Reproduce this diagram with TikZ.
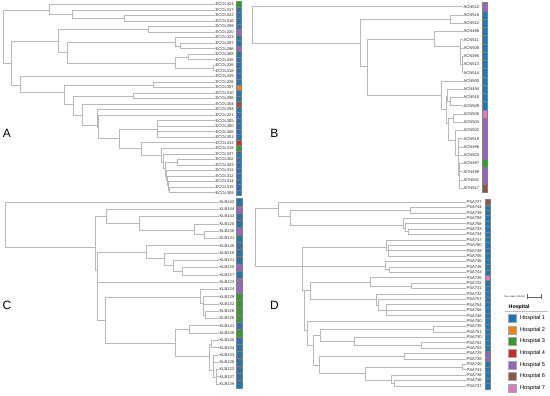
\documentclass[tikz,border=0pt]{standalone}
\usepackage{fontspec}
\setmainfont{Liberation Sans}
\definecolor{hblue}{HTML}{1F77B4}
\definecolor{horange}{HTML}{FF7F0E}
\definecolor{hgreen}{HTML}{2CA02C}
\definecolor{hred}{HTML}{D62728}
\definecolor{hpurple}{HTML}{9467BD}
\definecolor{hbrown}{HTML}{8C564B}
\definecolor{hpink}{HTML}{E377C2}
\begin{document}
\begin{tikzpicture}[
  x=1pt, y=-1pt,
  branch/.style={draw=black!28, line width=0.6pt},
  leaf/.style={anchor=west, inner sep=0.5pt, font=\fontsize{4.1}{4.5}\selectfont, text=black!85},
  cell/.style={draw=black!50, line width=0.25pt, minimum width=5pt, inner sep=0pt},
  panel/.style={font=\fontsize{12}{14}\selectfont, inner sep=0pt},
  key/.style={draw=black!35, line width=0.3pt, minimum size=8pt, inner sep=0pt},
  keytext/.style={anchor=west, font=\fontsize{5.6}{6.5}\selectfont, inner sep=0pt}]
  \useasboundingbox (0,0) rectangle (550,396);
  % Panel A: ECOL
  \node[panel] (pa) at (7,133.8) {A};
  \foreach \lab/\hc [count=\i from 0] in {324/hgreen, 317/hblue, 322/hblue, 316/hblue, 299/hblue,
      320/hpurple, 323/hblue, 297/hblue, 296/hpurple, 308/hblue, 325/hblue, 326/hblue, 318/hblue,
      329/hblue, 328/hblue, 307/horange, 310/hblue, 298/hblue, 304/hbrown, 294/hblue, 321/hblue,
      305/hblue, 300/hblue, 306/hblue, 301/hblue, 313/hred, 319/hgreen, 327/hblue, 302/hblue,
      303/hblue, 311/hblue, 312/hblue, 314/hblue, 315/hblue, 309/hblue} {
    \node[leaf] (a\i) at (215, 4.3+5.54*\i) {ECOL\lab};
    \node[cell, fill=\hc, minimum height=5.54pt] (sa\i) at (239, 4.3+5.54*\i) {};
  }
  \coordinate (aR) at (3.3,36.5);   \coordinate (aT) at (49,10);
  \coordinate (aT2) at (72.7,14);   \coordinate (aT3) at (124,18.1);
  \coordinate (aX) at (11.7,63);    \coordinate (aU) at (58.3,41.7);
  \coordinate (aU1) at (148.3,29.5); \coordinate (aU2) at (67.3,52.7);
  \coordinate (aU3) at (175,42.3);  \coordinate (aU5) at (180,46.2);
  \coordinate (aU4) at (175,63);    \coordinate (aU6) at (188,57.1);
  \coordinate (aU7) at (213,68.4);  \coordinate (aV) at (20.7,85);
  \coordinate (aW) at (64,92);      \coordinate (aW1) at (153,85);
  \coordinate (aW2) at (73.3,104);  \coordinate (aW3) at (133,96);
  \coordinate (aW4) at (82,115);    \coordinate (aW5) at (97,125);
  \coordinate (aW6) at (98.3,127);  \coordinate (aW7) at (119,138);
  \coordinate (aW8) at (157,129);   \coordinate (aW9) at (141.7,148);
  \coordinate (aW10) at (161.7,155); \coordinate (aW11) at (163.7,162);
  \coordinate (aW12) at (165,168);  \coordinate (aW13) at (177,162.2);
  \coordinate (aW14) at (166,176);  \coordinate (aW15) at (167,180);
  \coordinate (aW16) at (168,185);  \coordinate (aW17) at (169,190);
  \foreach \p/\c in {aR/aT, aR/aX, aT/a0, aT/aT2, aT2/a1, aT2/aT3, aT3/a2, aT3/a3,
      aX/aU, aX/aV, aU/aU1, aU/aU2, aU1/a4, aU1/a5, aU2/aU3, aU2/aU4, aU3/a6, aU3/aU5,
      aU5/a7, aU5/a8, aU4/aU6, aU4/aU7, aU6/a9, aU6/a10, aU7/a11, aU7/a12,
      aV/a13, aV/aW, aW/aW1, aW/aW2, aW1/a14, aW1/a15, aW2/aW3, aW2/aW4, aW3/a16, aW3/a17,
      aW4/a18, aW4/aW5, aW5/a19, aW5/aW6, aW6/a20, aW6/aW7, aW7/aW8, aW7/aW9,
      aW8/a21, aW8/a22, aW8/a23, aW8/a24, aW9/a25, aW9/aW10, aW10/a26, aW10/aW11,
      aW11/a27, aW11/aW12, aW12/aW13, aW12/aW14, aW13/a28, aW13/a29, aW14/a30, aW14/aW15,
      aW15/a31, aW15/aW16, aW16/a32, aW16/aW17, aW17/a33, aW17/a34}
    \draw[branch] (\p) |- (\c);
  % Panel B: ACN
  \node[panel] (pb) at (274.5,133.5) {B};
  \foreach \lab/\hc [count=\i from 0] in {510/hpurple, 518/hblue, 512/hblue, 498/hblue, 511/hblue,
      508/hblue, 495/hblue, 513/hblue, 514/hblue, 500/hblue, 494/hblue, 515/hblue, 509/hblue,
      506/hpink, 504/hpurple, 502/hpurple, 519/hpurple, 496/hpurple, 503/hpurple, 497/hgreen,
      499/hpurple, 501/hpurple, 517/hbrown} {
    \node[leaf] (b\i) at (463, 6.7+8.25*\i) {ACN\lab};
    \node[cell, fill=\hc, minimum height=8.25pt] (sb\i) at (485, 6.7+8.25*\i) {};
  }
  \coordinate (bR) at (252,25);     \coordinate (bX) at (360.7,43.3);
  \coordinate (bY) at (450.5,19.1); \coordinate (bZ) at (367.3,66.7);
  \coordinate (bP) at (434,39.3);   \coordinate (bP2) at (460,46.7);
  \coordinate (bP3) at (462,64);    \coordinate (bQ) at (441.7,95);
  \coordinate (bS) at (446,109.3);  \coordinate (bS1) at (447.5,96.7);
  \coordinate (bS2) at (448,123.3); \coordinate (bS3) at (450,101.6);
  \coordinate (bS4) at (453,118.2); \coordinate (bS5) at (455,140);
  \coordinate (bS6) at (458,155);   \coordinate (bS7) at (459.5,175);
  \foreach \p/\c in {bR/b0, bR/bX, bX/bY, bX/bZ, bY/b1, bY/b2, bZ/bP, bZ/bQ, bP/b3, bP/bP2,
      bP2/b4, bP2/b5, bP2/bP3, bP3/b6, bP3/b7, bP3/b8, bQ/b9, bQ/bS, bS/bS1, bS/bS2,
      bS1/b10, bS1/bS3, bS3/b11, bS3/b12, bS2/bS4, bS2/bS5, bS4/b13, bS4/b14, bS5/b15, bS5/bS6,
      bS6/b16, bS6/b17, bS6/b18, bS6/bS7, bS7/b19, bS7/b20, bS7/b21, bS7/b22}
    \draw[branch] (\p) |- (\c);
  % Panel C: KLB
  \node[panel] (pc) at (7,305) {C};
  \foreach \lab/\hc [count=\i from 0] in {142/hblue, 144/hpurple, 143/hblue, 120/hblue, 130/hpurple,
      131/hblue, 145/hblue, 119/hblue, 121/hblue, 125/hpurple, 127/hblue, 123/hpurple, 124/hpurple,
      129/hgreen, 132/hgreen, 128/hgreen, 126/hgreen, 141/hblue, 138/hgreen, 140/hblue, 134/hblue,
      133/hblue, 136/hblue, 122/hblue, 137/hblue, 139/hblue} {
    \node[leaf] (c\i) at (219, 202+7.28*\i) {KLB\lab};
    \node[cell, fill=\hc, minimum width=6pt, minimum height=7.28pt] (sc\i) at (239, 202+7.28*\i) {};
  }
  \coordinate (cR) at (5.7,224.7);  \coordinate (cX) at (95.7,247.3);
  \coordinate (cU) at (106.7,216.7); \coordinate (cU1) at (139,223.5);
  \coordinate (cU2) at (194,230);   \coordinate (cU3) at (204,234.8);
  \coordinate (cV) at (97.3,270);   \coordinate (cW) at (146.7,252);
  \coordinate (cW1) at (164.3,258); \coordinate (cW2) at (173.7,265);
  \coordinate (cW3) at (182.3,271.2); \coordinate (cY) at (97.7,290);
  \coordinate (cZ) at (105,320);    \coordinate (cZ1) at (200,297.3);
  \coordinate (cZ3) at (203,303);   \coordinate (cZ4) at (205,314.9);
  \coordinate (cZ2) at (175.7,343.3); \coordinate (cZ5) at (189,329.4);
  \coordinate (cZ6) at (209.3,356); \coordinate (cZ7) at (211,344);
  \coordinate (cZ8) at (213.3,370); \coordinate (cZ9) at (216,376.9);
  \foreach \p/\c in {cR/c0, cR/cX, cX/cU, cX/cV, cU/c1, cU/cU1, cU1/c2, cU1/cU2, cU2/c3, cU2/cU3,
      cU3/c4, cU3/c5, cV/cW, cV/cY, cW/c6, cW/cW1, cW1/c7, cW1/cW2, cW2/c8, cW2/cW3,
      cW3/c9, cW3/c10, cY/c11, cY/cZ, cZ/cZ1, cZ/cZ2, cZ1/c12, cZ1/cZ3, cZ3/c13, cZ3/c14,
      cZ3/cZ4, cZ4/c15, cZ4/c16, cZ2/cZ5, cZ2/cZ6, cZ5/c17, cZ5/c18, cZ6/cZ7, cZ6/cZ8,
      cZ7/c19, cZ7/c20, cZ8/c21, cZ8/c22, cZ8/cZ9, cZ9/c23, cZ9/c24, cZ9/c25}
    \draw[branch] (\p) |- (\c);
  % Panel D: PSA
  \node[panel] (pd) at (274.5,305) {D};
  \foreach \lab/\hc [count=\i from 0] in {727/hbrown, 744/hblue, 739/hblue, 759/hblue, 758/hblue,
      733/hblue, 734/hblue, 747/hblue, 760/hblue, 749/hblue, 755/hblue, 746/hblue, 745/hblue,
      743/hblue, 726/hpink, 742/hblue, 731/hblue, 732/hblue, 757/hblue, 754/hblue, 756/hblue,
      748/hblue, 750/hblue, 735/hblue, 751/hblue, 730/hblue, 752/hblue, 753/hblue, 729/hpurple,
      728/hpurple, 740/hblue, 741/hblue, 738/hblue, 736/hblue, 737/hblue} {
    \node[leaf] (d\i) at (466, 202+5.41*\i) {PSA\lab};
    \node[cell, fill=\hc, minimum height=5.41pt] (sd\i) at (487.5, 202+5.41*\i) {};
  }
  \coordinate (dR) at (255,237.5);  \coordinate (dT) at (278.3,208.3);
  \coordinate (dT1) at (290.7,216); \coordinate (dT2) at (410,210.1);
  \coordinate (dT3) at (403.3,225); \coordinate (dT4) at (405.5,228);
  \coordinate (dT5) at (408,231.8); \coordinate (dX) at (302.3,266.7);
  \coordinate (dU) at (386,247.7);  \coordinate (dU1) at (388,250.7);
  \coordinate (dV) at (385,266.7);  \coordinate (dV1) at (389.3,269.6);
  \coordinate (dW) at (304,290);    \coordinate (dW1) at (310,290.5);
  \coordinate (dW3) at (370,282);   \coordinate (dW5) at (411.7,285.9);
  \coordinate (dW4) at (376,299);   \coordinate (dW6) at (378.3,305);
  \coordinate (dW7) at (386.7,310.2); \coordinate (dW2) at (307.7,330);
  \coordinate (dW8) at (313.3,345); \coordinate (dW9) at (320,335);
  \coordinate (dW11) at (433.3,329.1); \coordinate (dW12) at (354.3,341.5);
  \coordinate (dW13) at (421.7,345.4); \coordinate (dW10) at (319.3,365);
  \coordinate (dW14) at (404.3,356.2); \coordinate (dW15) at (365,373);
  \coordinate (dW16) at (462,367);  \coordinate (dW17) at (391.7,380);
  \coordinate (dW18) at (394,383.2);
  \foreach \p/\c in {dR/dT, dR/dX, dT/d0, dT/dT1, dT1/dT2, dT1/dT3, dT2/d1, dT2/d2, dT3/d3, dT3/dT4,
      dT4/d4, dT4/dT5, dT5/d5, dT5/d6, dX/dU, dX/dV, dX/dW, dU/d7, dU/dU1, dU1/d8, dU1/d9, dU1/d10,
      dV/d11, dV/dV1, dV1/d12, dV1/d13, dW/dW1, dW/dW2, dW1/dW3, dW1/dW4, dW3/d14, dW3/dW5,
      dW5/d15, dW5/d16, dW4/d17, dW4/dW6, dW6/d18, dW6/dW7, dW7/d19, dW7/d20, dW7/d21,
      dW2/d22, dW2/dW8, dW8/dW9, dW8/dW10, dW9/dW11, dW9/dW12, dW11/d23, dW11/d24,
      dW12/d25, dW12/dW13, dW13/d26, dW13/d27, dW10/dW14, dW10/dW15, dW14/d28, dW14/d29,
      dW15/dW16, dW15/dW17, dW16/d30, dW16/d31, dW17/d32, dW17/dW18, dW18/d33, dW18/d34}
    \draw[branch] (\p) |- (\c);
  % Legend
  \node[anchor=east, font=\fontsize{2.3}{2.6}\selectfont, inner sep=0pt] (tscale) at (525,296.7) {Tree scale: 100.000};
  \coordinate (sbar1) at (526.5,296.7);
  \coordinate (sbar2) at (541,296.7);
  \draw[black!60, line width=0.3pt, |-|] (sbar1) -- (sbar2);
  \node[anchor=west, font=\bfseries\fontsize{5.3}{6}\selectfont, inner sep=0pt] (ktitle) at (508.5,306.7) {Hospital};
  \coordinate (kline1) at (505,311.5);
  \coordinate (kline2) at (548,311.5);
  \draw[black!25, line width=0.3pt] (kline1) -- (kline2);
  \foreach \hc [count=\k] in {hblue, horange, hgreen, hred, hpurple, hbrown, hpink} {
    \node[key, fill=\hc] (key\k) at (512.5, 306.7+11.6*\k) {};
    \node[keytext] (keyt\k) at (520, 306.7+11.6*\k) {Hospital \k};
  }
\end{tikzpicture}
\end{document}
